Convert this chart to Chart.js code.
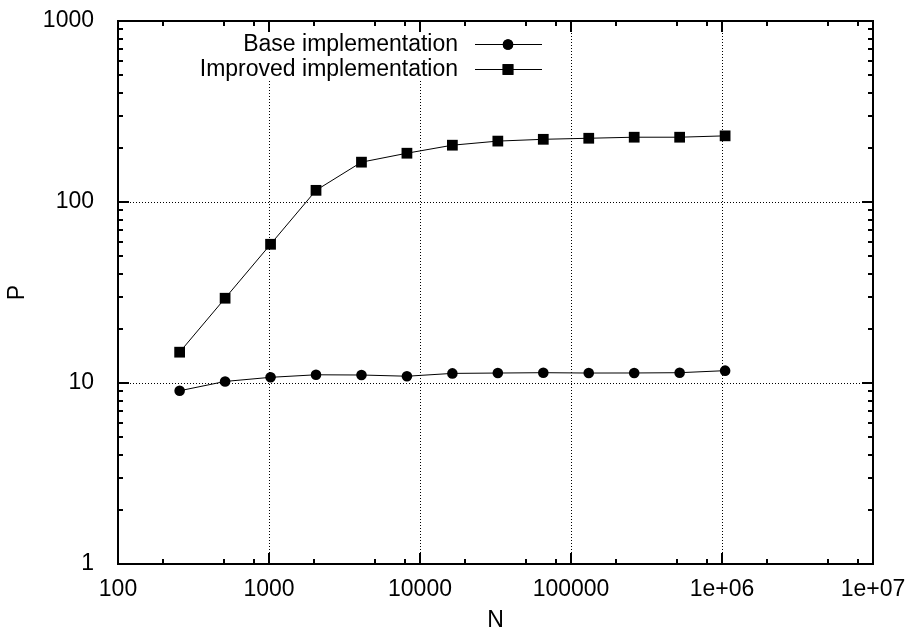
<!DOCTYPE html>
<html>
<head>
	<meta charset="utf-8">
	<title>P vs N</title>
	<script src="https://cdn.jsdelivr.net/npm/chart.js@4/dist/chart.umd.min.js"></script>
	<style>
		body { margin: 0; background: #fff; }
		canvas { display: block; }
	</style>
</head>
<body>
	<canvas id="myChart" width="907" height="630"></canvas>
	<script>
		// problem sizes (2^8 .. 2^20)
		var sizes = [256, 512, 1024, 2048, 4096, 8192, 16384, 32768, 65536, 131072, 262144, 524288, 1048576];
		var baseP = [9.06, 10.2, 10.75, 11.1, 11.07, 10.9, 11.3, 11.35, 11.4, 11.35, 11.36, 11.4, 11.7];
		var improvedP = [14.8, 29.4, 58.4, 116, 166, 186, 206, 217, 222, 225, 228, 228, 232];

		var xTicks = [100, 1000, 10000, 100000, 1000000, 10000000];
		var xTickLabels = ['100', '1000', '10000', '100000', '1e+06', '1e+07'];
		var yTicks = [1, 10, 100, 1000];
		var yTickLabels = ['1', '10', '100', '1000'];

		var xMinor = [2, 5, 8];
		var yMinor = [2, 3, 4, 5, 6, 7, 8, 9];

		var FONT = "'Liberation Sans', Arial, sans-serif";
		Chart.defaults.font.family = FONT;
		Chart.defaults.font.size = 23;
		Chart.defaults.color = '#000';

		function points(ys) {
			return sizes.map(function(n, i) { return {x: n, y: ys[i]}; });
		}

		function fixBox(w, h) {
			return function(scale) {
				if (w) scale.width = w;
				if (h) scale.height = h;
				scale.paddingLeft = scale.paddingRight = scale.paddingTop = scale.paddingBottom = 0;
			};
		}

		function seg(ctx, x1, y1, x2, y2) {
			ctx.beginPath();
			ctx.moveTo(x1, y1);
			ctx.lineTo(x2, y2);
			ctx.stroke();
		}

		// gnuplot style frame: dotted grid, inward ticks on all sides, key box
		var framePlugin = {
			id: 'frame',
			beforeDatasetsDraw: function(chart) {
				var ctx = chart.ctx, a = chart.chartArea;
				var x = chart.scales.x, y = chart.scales.y;
				ctx.save();
				ctx.strokeStyle = '#000';
				ctx.lineWidth = 1;
				ctx.setLineDash([1, 2]);
				xTicks.slice(1, -1).forEach(function(v) {
					var px = Math.round(x.getPixelForValue(v)) + 0.5;
					seg(ctx, px, a.top, px, a.bottom);
				});
				yTicks.slice(1, -1).forEach(function(v) {
					var py = Math.round(y.getPixelForValue(v)) + 0.5;
					seg(ctx, a.left, py, a.right, py);
				});
				ctx.setLineDash([]);
				// blank area behind the key
				ctx.fillStyle = '#fff';
				ctx.fillRect(a.left + 107, a.top + 1, 325, 59);
				ctx.restore();
			},
			afterDatasetsDraw: function(chart) {
				var ctx = chart.ctx, a = chart.chartArea;
				var x = chart.scales.x, y = chart.scales.y;
				ctx.save();
				ctx.strokeStyle = '#000';
				ctx.lineWidth = 2;
				ctx.strokeRect(a.left, a.top, a.right - a.left, a.bottom - a.top);

				var major = 11, minor = 5;
				xTicks.forEach(function(v, i) {
					var px = Math.round(x.getPixelForValue(v));
					seg(ctx, px, a.bottom, px, a.bottom - major);
					seg(ctx, px, a.top, px, a.top + major);
					if (i < xTicks.length - 1) {
						xMinor.forEach(function(m) {
							var mx = Math.round(x.getPixelForValue(v * m));
							seg(ctx, mx, a.bottom, mx, a.bottom - minor);
							seg(ctx, mx, a.top, mx, a.top + minor);
						});
					}
				});
				yTicks.forEach(function(v, i) {
					var py = Math.round(y.getPixelForValue(v));
					seg(ctx, a.left, py, a.left + major, py);
					seg(ctx, a.right, py, a.right - major, py);
					if (i < yTicks.length - 1) {
						yMinor.forEach(function(m) {
							var my = Math.round(y.getPixelForValue(v * m));
							seg(ctx, a.left, my, a.left + minor, my);
							seg(ctx, a.right, my, a.right - minor, my);
						});
					}
				});

				// key entries
				ctx.lineWidth = 1;
				ctx.font = '23px ' + FONT;
				ctx.fillStyle = '#000';
				ctx.textAlign = 'right';
				ctx.textBaseline = 'middle';
				chart.data.datasets.forEach(function(ds, i) {
					var ky = a.top + 23 + i * 25;
					ctx.fillText(ds.label, a.left + 340, ky + 1);
					seg(ctx, a.left + 357, ky + 0.5, a.left + 424, ky + 0.5);
					Chart.helpers.drawPoint(ctx, {
						pointStyle: ds.pointStyle,
						radius: ds.pointRadius,
						borderWidth: 0,
						rotation: 0
					}, a.left + 390, ky + 0.5);
					ctx.fill();
				});
				ctx.restore();
			}
		};

		var ctx = document.getElementById('myChart').getContext('2d');
		var myChart = new Chart(ctx, {
			type: 'line',
			data: {
				datasets: [{
					label: 'Base implementation',
					data: points(baseP),
					borderColor: '#000',
					borderWidth: 1,
					pointStyle: 'circle',
					pointRadius: 5.3,
					pointBackgroundColor: '#000',
					pointBorderWidth: 0,
					tension: 0
				}, {
					label: 'Improved implementation',
					data: points(improvedP),
					borderColor: '#000',
					borderWidth: 1,
					pointStyle: 'rect',
					pointRadius: 7.6,
					pointBackgroundColor: '#000',
					pointBorderWidth: 0,
					tension: 0
				}]
			},
			options: {
				responsive: false,
				animation: false,
				devicePixelRatio: 1,
				layout: { padding: { left: 0, top: 21, right: 34, bottom: 0 } },
				scales: {
					x: {
						type: 'logarithmic',
						min: 100,
						max: 10000000,
						grid: { display: false },
						border: { display: false },
						afterBuildTicks: function(scale) {
							scale.ticks = xTicks.map(function(v) { return {value: v}; });
						},
						afterFit: fixBox(0, 66),
						ticks: {
							autoSkip: false,
							maxRotation: 0,
							padding: 4,
							callback: function(value, index) { return xTickLabels[index]; }
						},
						title: { display: true, text: 'N', padding: { top: 0, bottom: -4 } }
					},
					y: {
						type: 'logarithmic',
						min: 1,
						max: 1000,
						grid: { display: false },
						border: { display: false },
						afterBuildTicks: function(scale) {
							scale.ticks = yTicks.map(function(v) { return {value: v}; });
						},
						afterFit: fixBox(118, 0),
						ticks: {
							autoSkip: false,
							padding: 16,
							callback: function(value, index) { return yTickLabels[index]; }
						},
						title: { display: true, text: 'P', padding: 4 }
					}
				},
				plugins: {
					legend: { display: false },
					tooltip: { enabled: false }
				}
			},
			plugins: [framePlugin]
		});
	</script>
</body>
</html>
